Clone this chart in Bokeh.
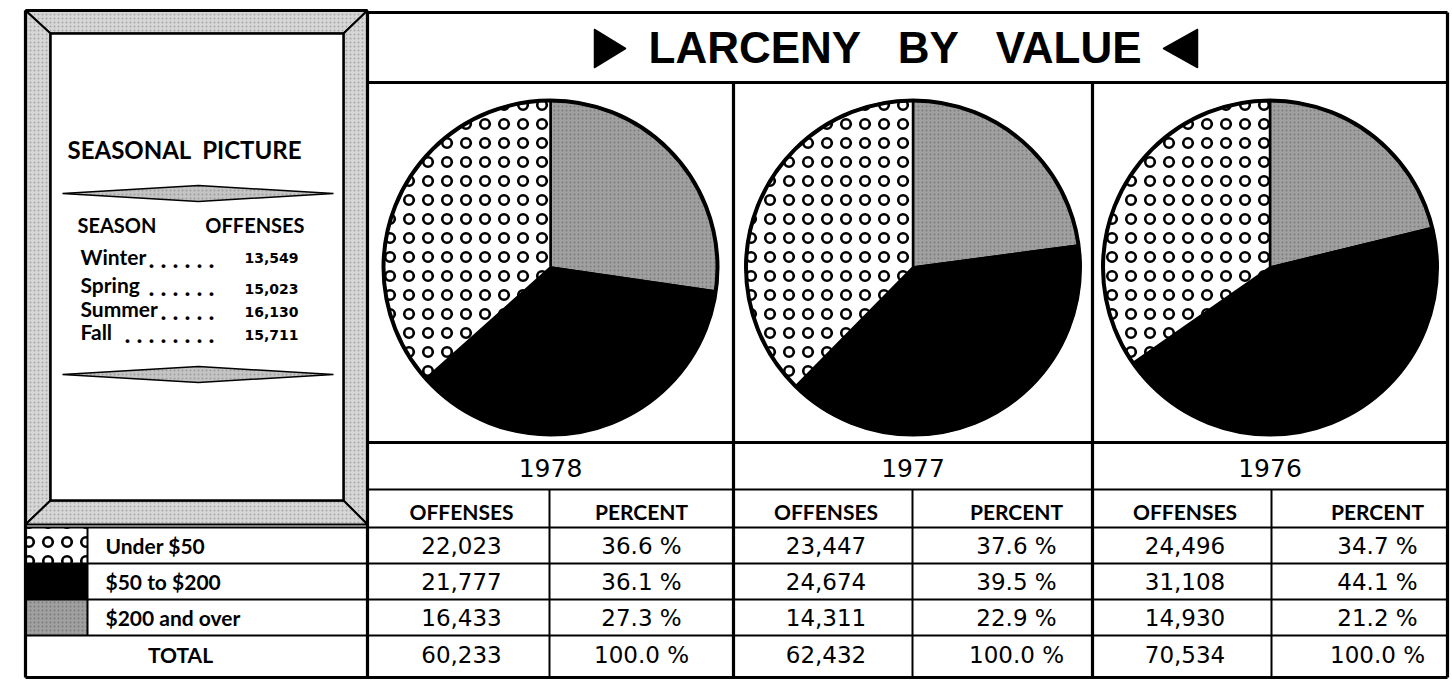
import math
from bokeh.plotting import figure
from bokeh.models import Range1d
from bokeh.core.properties import value
from bokeh.embed import file_html
from bokeh.resources import INLINE

# ---------------- data ----------------
years = ["1978", "1977", "1976"]
categories = ["Under $50", "$50 to $200", "$200 and over"]
offenses_1978 = [22023, 21777, 16433]
offenses_1977 = [23447, 24674, 14311]
offenses_1976 = [24496, 31108, 14930]
percent_1978 = [36.6, 36.1, 27.3]
percent_1977 = [37.6, 39.5, 22.9]
percent_1976 = [34.7, 44.1, 21.2]
totals = [60233, 62432, 70534]
total_percent = [100.0, 100.0, 100.0]

season_names = ["Winter", "Spring", "Summer", "Fall"]
season_dots = [6, 6, 5, 8]
season_offenses = [13549, 15023, 16130, 15711]

NB = "\u00a0"
title_text = f"LARCENY{NB*3}BY{NB*3}VALUE"
panel_title = f"SEASONAL{NB*2}PICTURE"

offenses_by_year = [offenses_1978, offenses_1977, offenses_1976]
percent_by_year = [percent_1978, percent_1977, percent_1976]

# ---------------- layout (image pixel coordinates) ----------------
W, H = 1452, 680


def Y(v):
    return H - v


X_L, X_PANEL, X_R = 25, 367, 1447
col_edges = [367, 733, 1092, 1447]
col_splits = [549, 912, 1271]
pct_dx = [0, 14, 18]
Y_TITLE_TOP, Y_TITLE_BOT = 12, 82
Y_PIE_BOT, Y_YEAR_BOT, Y_HEAD_BOT = 442, 489, 527
row_tops = [527, 563, 599, 635]
Y_BOTTOM = 677
row_centers = [545, 581, 617, 654]
SW_R = 87

PIE_CY = 267
PIE_R = 167

p = figure(width=W, height=H, x_range=Range1d(0, W), y_range=Range1d(0, H),
           output_backend="svg", toolbar_location=None, min_border=0)
p.axis.visible = False
p.grid.visible = False
p.outline_line_color = None
p.background_fill_color = "white"
p.border_fill_color = "white"

BOLD = value("Lato")
NUM = value("DejaVu Sans")


def txt(xs, ys, texts, font=BOLD, size="21px", style="bold", align="center"):
    xs, ys, texts = list(xs), list(ys), list(texts)
    p.text(x=xs, y=[Y(v) for v in ys], text=texts, text_font=font,
           text_font_style=style, text_font_size=size, text_baseline="middle",
           text_align=align, text_color="black")


# ---------------- left bevel frame ----------------
FT, FB = 10, 524
IL, IT, IR, IB = 50, 33, 343, 500
bevel_xs = [
    [X_L, X_PANEL, IR, IL],
    [X_L, IL, IL, X_L],
    [X_PANEL, IR, IR, X_PANEL],
    [X_L, IL, IR, X_PANEL],
]
bevel_ys = [
    [Y(FT), Y(FT), Y(IT), Y(IT)],
    [Y(FT), Y(IT), Y(IB), Y(FB)],
    [Y(FT), Y(IT), Y(IB), Y(FB)],
    [Y(FB), Y(IB), Y(IB), Y(FB)],
]
p.patches(bevel_xs, bevel_ys, fill_color="#d6d6d6", hatch_pattern=".", hatch_scale=4,
          hatch_color="#7a7a7a", hatch_alpha=0.5, line_color="black", line_width=2)
p.quad(left=[IL], right=[IR], top=[Y(IT)], bottom=[Y(IB)], fill_color="white",
       line_color="black", line_width=2.5)

# diamond dividers
for yc in [193, 374]:
    p.patch([62, 198, 333, 198], [Y(yc), Y(yc - 8), Y(yc), Y(yc + 8)],
            fill_color="#c4c4c4", hatch_pattern=".", hatch_scale=4, hatch_color="#777777",
            hatch_alpha=0.5, line_color="black", line_width=1.5)

# seasonal texts
txt([67], [149], [panel_title], size="24px", align="left")
txt([77], [224], ["SEASON"], size="20px", align="left")
txt([304], [224], ["OFFENSES"], size="20px", align="right")
name_y = [256, 284, 308, 331]
val_y = [257, 288, 311, 334]
txt([80] * 4, name_y, season_names, size="21px", align="left")
leaders = [NB.join(["."] * k) for k in season_dots]
txt([214] * 4, [v + 1 for v in name_y], leaders, size="25px", align="right")
txt([298] * 4, val_y, [f"{v:,}" for v in season_offenses], font=NUM, size="14px",
    align="right")

# ---------------- pies ----------------
centers = [(col_edges[i] + col_edges[i + 1]) / 2 for i in range(3)]
styles = [
    dict(fill_color="white", hatch_pattern="ring", hatch_scale=19, hatch_weight=2.6,
         hatch_color="black"),
    dict(fill_color="black"),
    dict(fill_color="#a0a0a0", hatch_pattern=".", hatch_scale=4, hatch_color="#505050",
         hatch_alpha=0.45),
]
order = [2, 1, 0]  # clockwise from 12 o'clock
for ci in order:
    xs, ys, sa, ea = [], [], [], []
    for yi in range(3):
        pcts = percent_by_year[yi]
        tot = sum(pcts)
        start = math.pi / 2
        for k in order:
            end = start - pcts[k] / tot * 2 * math.pi
            if k == ci:
                xs.append(centers[yi]); ys.append(Y(PIE_CY)); sa.append(end); ea.append(start)
            start = end
    p.wedge(x=xs, y=ys, radius=PIE_R, start_angle=sa, end_angle=ea, direction="anticlock",
            line_color="black", line_width=2.5, **styles[ci])
p.circle(x=centers, y=[Y(PIE_CY)] * 3, radius=PIE_R, fill_color=None,
         line_color="black", line_width=4)

# ---------------- legend swatches ----------------
for ci in range(3):
    p.quad(left=[X_L], right=[SW_R], top=[Y(row_tops[ci])], bottom=[Y(row_tops[ci + 1])],
           line_color=None, **styles[ci])

# ---------------- title ----------------
txt([648], [47], [title_text], font=value("Liberation Sans"), size="44px", align="left")
p.patches([[594, 625, 594], [1197, 1163, 1197]],
          [[Y(29), Y(48), Y(67)], [Y(29), Y(48), Y(67)]],
          fill_color="black", line_color="black", line_width=1.5, line_join="round")

# ---------------- table texts ----------------
txt([SW_R + 18] * 3, row_centers[:3], categories, size="21px", align="left")
txt([180], [row_centers[3]], ["TOTAL"], size="21px")

for yi in range(3):
    l, s, r = col_edges[yi], col_splits[yi], col_edges[yi + 1]
    oc = (l + s) / 2 + 3
    pc = (s + r) / 2 + pct_dx[yi]
    txt([(l + r) / 2], [467], [years[yi]], font=NUM, size="25px", style="normal")
    txt([oc, pc], [511, 511], ["OFFENSES", "PERCENT"], size="21px")
    vals = [f"{v:,}" for v in offenses_by_year[yi]] + [f"{totals[yi]:,}"]
    pcts = [f"{v:.1f} %" for v in percent_by_year[yi]] + [f"{total_percent[yi]:.1f} %"]
    txt([oc] * 4, row_centers, vals, font=NUM, size="23px", style="normal")
    txt([pc] * 4, row_centers, pcts, font=NUM, size="23px", style="normal")

# ---------------- grid lines ----------------
thick = ([], [], [], [])
thin = ([], [], [], [])


def seg(lst, x0, y0, x1, y1):
    lst[0].append(x0); lst[1].append(Y(y0)); lst[2].append(x1); lst[3].append(Y(y1))


seg(thick, X_L, FT, X_L, Y_BOTTOM)
seg(thick, X_L, Y_BOTTOM, X_R, Y_BOTTOM)
seg(thick, X_R, Y_TITLE_TOP, X_R, Y_BOTTOM)
seg(thick, X_L, FT, X_PANEL, FT)
seg(thick, X_PANEL, Y_TITLE_TOP, X_R, Y_TITLE_TOP)
seg(thick, X_PANEL, Y_TITLE_BOT, X_R, Y_TITLE_BOT)
seg(thick, X_PANEL, Y_PIE_BOT, X_R, Y_PIE_BOT)
for xe in col_edges[:-1]:
    seg(thick, xe, Y_TITLE_TOP if xe == X_PANEL else Y_TITLE_BOT, xe, Y_BOTTOM)
seg(thin, X_PANEL, Y_YEAR_BOT, X_R, Y_YEAR_BOT)
for yt in row_tops:
    seg(thin, X_L, yt, X_R, yt)
for xs_ in col_splits:
    seg(thin, xs_, Y_YEAR_BOT, xs_, Y_BOTTOM)
seg(thin, SW_R, row_tops[0], SW_R, row_tops[3])

p.segment(x0=thick[0], y0=thick[1], x1=thick[2], y1=thick[3], line_color="black",
          line_width=3.2)
p.segment(x0=thin[0], y0=thin[1], x1=thin[2], y1=thin[3], line_color="black",
          line_width=2)

open("out.html", "w").write(file_html(p, INLINE))
